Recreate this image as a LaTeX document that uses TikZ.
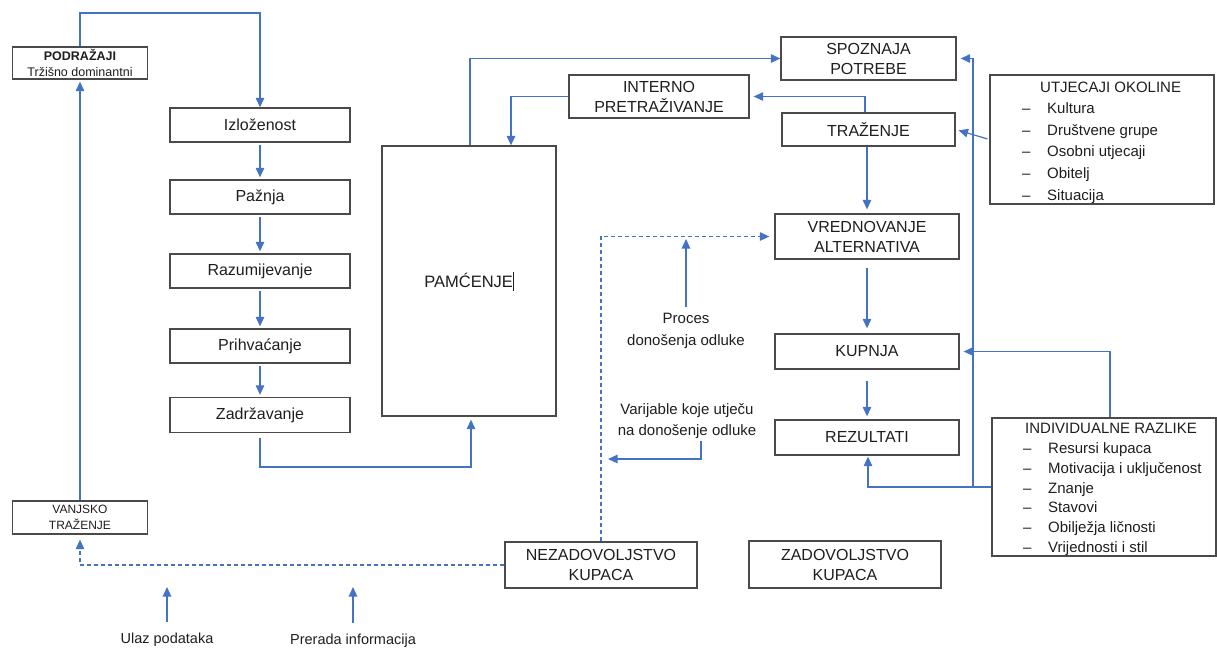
\documentclass[tikz,border=0pt]{standalone}
\usepackage{fontspec}
\setmainfont{Liberation Sans}
\usetikzlibrary{arrows.meta,calc}
\definecolor{lblue}{HTML}{4472C4}
\definecolor{bgray}{HTML}{4A4A4A}
\definecolor{txt}{HTML}{1E1E1E}
\begin{document}
\begin{tikzpicture}[x=1pt,y=-1pt,
  box/.style={draw=bgray, line width=1.3pt, inner sep=0pt, align=center, text=txt, font=\fontsize{16}{20}\selectfont},
  arr/.style={draw=lblue, line width=1.2pt, -{Triangle[length=9.5pt,width=8.5pt]}},
  darr/.style={arr, dash pattern=on 4pt off 3pt},
  lbl/.style={inner sep=0pt, align=center, text=txt, font=\fontsize{15}{21.5}\selectfont},
  li/.style={inner sep=0pt, anchor=west, text=txt, font=\fontsize{15}{18}\selectfont, text height=10.7pt, text depth=0pt}]
\useasboundingbox (0,0) rectangle (1217,648);

% left column
\node[box, minimum width=135pt, minimum height=32pt, font=\fontsize{12.5}{16}\selectfont] (podr) at (80,63) {\textbf{PODRAŽAJI}\\Tržišno dominantni};
\node[box, minimum width=180pt, minimum height=34pt] (izl) at (260,125) {Izloženost};
\node[box, minimum width=180pt, minimum height=34pt] (paz) at (260,197) {Pažnja};
\node[box, minimum width=180pt, minimum height=34pt] (raz) at (260,271) {Razumijevanje};
\node[box, minimum width=180pt, minimum height=34pt] (prih) at (260,346) {Prihvaćanje};
\node[box, minimum width=180pt, minimum height=35pt] (zadr) at (260,415) {Zadržavanje};
\node[box, minimum width=135pt, minimum height=33pt, font=\fontsize{12}{16}\selectfont] (vanj) at (80,517.5) {VANJSKO\\TRAŽENJE};

% memory
\node[box, minimum width=174pt, minimum height=270pt, font=\fontsize{16.5}{20}\selectfont] (pam) at (469,281) {PAMĆENJE\rule[-3pt]{0.7pt}{19pt}};

% decision column
\node[box, minimum width=180pt, minimum height=43pt] (intr) at (659,96.5) {INTERNO\\PRETRAŽIVANJE};
\node[box, minimum width=175pt, minimum height=43pt] (spoz) at (868.5,58.5) {SPOZNAJA\\POTREBE};
\node[box, minimum width=173pt, minimum height=33pt] (traz) at (868.5,129.5) {TRAŽENJE};
\node[box, minimum width=184pt, minimum height=45pt] (vred) at (867,236.5) {VREDNOVANJE\\ALTERNATIVA};
\node[box, minimum width=184pt, minimum height=35pt] (kup) at (867,351.5) {KUPNJA};
\node[box, minimum width=184pt, minimum height=35pt] (rez) at (867,437.5) {REZULTATI};
\node[box, minimum width=192pt, minimum height=46pt] (nez) at (601,565) {NEZADOVOLJSTVO\\KUPACA};
\node[box, minimum width=192pt, minimum height=47pt] (zad) at (845,564.5) {ZADOVOLJSTVO\\KUPACA};

% influence boxes
\node[box, minimum width=224pt, minimum height=129pt] (utj) at (1102,139.5) {};
\node[li] (utjh) at (1040,87) {UTJECAJI OKOLINE};
\foreach \t [count=\i] in {Kultura,Društvene grupe,Osobni utjecaji,Obitelj,Situacija}{
  \node[li] (ud\i) at (1022,{108+21.7*(\i-1)}) {–};
  \node[li] (u\i) at (1047,{108+21.7*(\i-1)}) {\t};
}
\node[box, minimum width=224pt, minimum height=138pt] (ind) at (1104,487) {};
\node[li] (indh) at (1025,428) {INDIVIDUALNE RAZLIKE};
\foreach \t [count=\i] in {Resursi kupaca,Motivacija i uključenost,Znanje,Stavovi,Obilježja ličnosti,Vrijednosti i stil}{
  \node[li] (id\i) at (1023,{448.5+19.7*(\i-1)}) {–};
  \node[li] (i\i) at (1048,{448.5+19.7*(\i-1)}) {\t};
}

% labels
\node[lbl] (procl) at (686,331) {Proces\\donošenja odluke};
\node[lbl] (varl) at (687,421) {Varijable koje utječu\\na donošenje odluke};
\node[lbl, font=\fontsize{14.5}{18}\selectfont] (ulaz) at (167,640) {Ulaz podataka};
\node[lbl, font=\fontsize{14.5}{18}\selectfont] (prer) at (353,641) {Prerada informacija};

% coordinates
\coordinate (topc) at (170,13);
\coordinate (zb) at (365,467);
\coordinate (pt) at (686,239);
\coordinate (vt) at (608,459);
\coordinate (ua) at (167,587);
\coordinate (pa) at (353,587);
\coordinate (r1) at (973,487);

% left chain
\draw[arr] (podr.north) |- (topc) -| (izl.north);
\draw[arr, shorten <=2pt, shorten >=2pt] (izl.south) -- (paz.north);
\draw[arr, shorten <=2pt, shorten >=2pt] (paz.south) -- (raz.north);
\draw[arr, shorten <=2pt, shorten >=2pt] (raz.south) -- (prih.north);
\draw[arr, shorten <=2pt, shorten >=2pt] (prih.south) -- (zadr.north);
\draw[arr, shorten <=5pt, shorten >=3pt] (zadr.south) |- (zb) -| ([xshift=2pt]pam.south);
\draw[arr, shorten >=2pt] (vanj.north) -- (podr.south);

% memory links
\draw[arr] ([xshift=1pt]pam.north) |- (spoz.west);
\draw[arr] (intr.west) -| ([xshift=42pt]pam.north);
\draw[arr, shorten >=4pt] ([xshift=-3.5pt]traz.north) |- (intr.east);

% decision chain
\draw[arr, shorten >=4pt] ([xshift=-1.5pt]traz.south) -- (vred.north);
\draw[arr, shorten <=8pt, shorten >=5pt] (vred.south) -- (kup.north);
\draw[arr, shorten <=11pt, shorten >=3pt] (kup.south) -- (rez.north);

% dashed feedback
\draw[darr, shorten >=5pt] (nez.north) |- (vred.west);
\draw[darr, shorten >=5pt] (nez.west) -| (vanj.south);

% label arrows
\draw[arr, shorten <=6pt] (procl.north) -- (pt);
\draw[arr, shorten <=2pt] ([xshift=14pt]varl.south) |- (vt);
\draw[arr, shorten <=11pt] (ulaz.north) -- (ua);
\draw[arr, shorten <=11pt] (prer.north) -- (pa);

% right side influences
\draw[arr, shorten >=1pt] (ind.west) -| ([xshift=1pt]rez.south);
\draw[arr, shorten >=4pt] (r1) |- (spoz.east);
\draw[arr, shorten <=2pt, shorten >=3pt] (utj.west) -- (traz.east);
\draw[arr, shorten >=4pt] ([xshift=6pt]ind.north) |- (kup.east);
\end{tikzpicture}
\end{document}
